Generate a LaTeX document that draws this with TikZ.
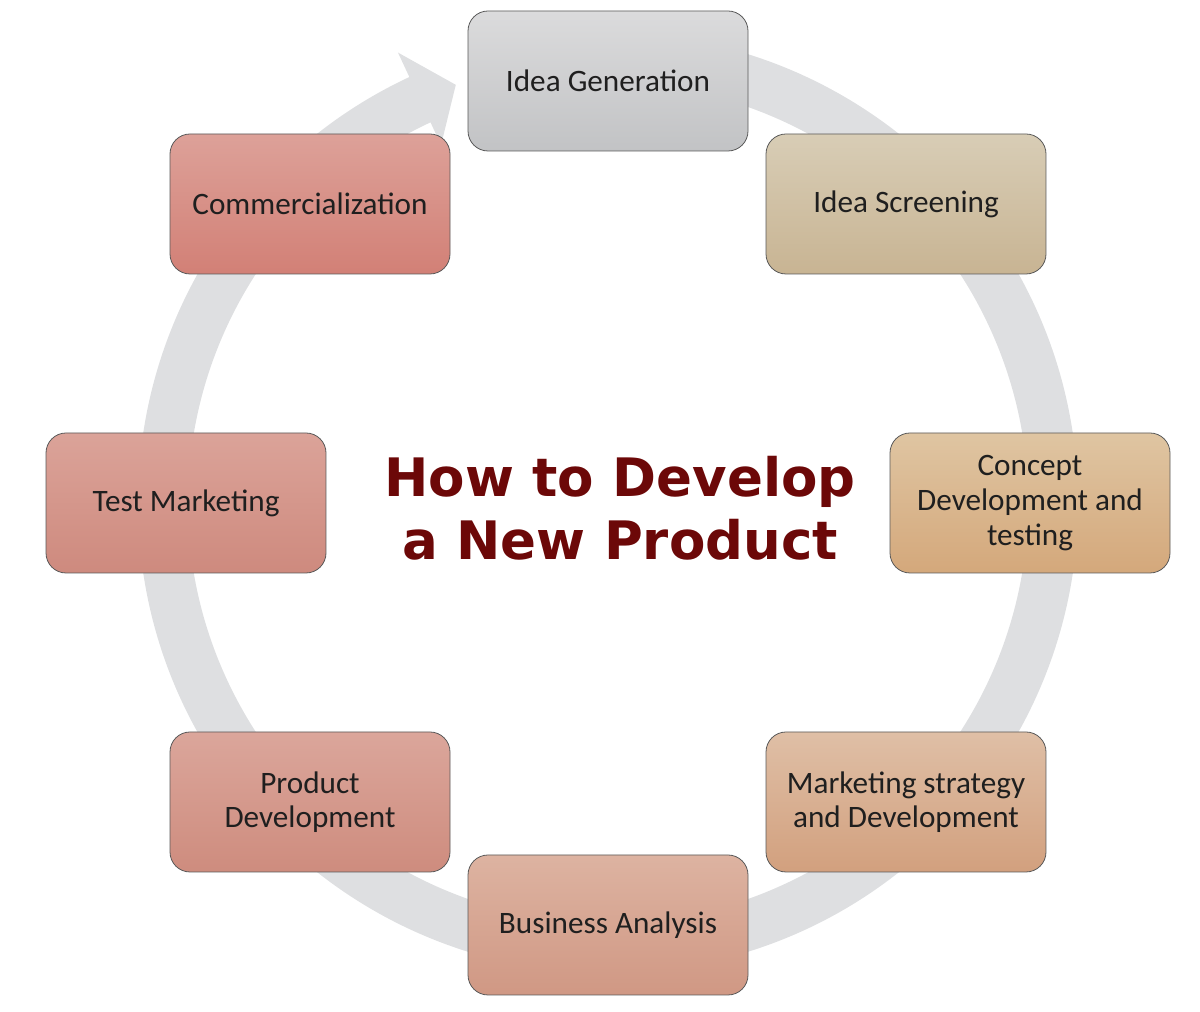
\documentclass[tikz,border=0pt]{standalone}
\usepackage{fontspec}
\setmainfont{Carlito}
\newfontfamily\titlefont{DejaVu Sans}
\definecolor{ringgray}{RGB}{222,223,225}
\definecolor{titlered}{RGB}{108,8,8}
\definecolor{gentop}{RGB}{219,219,220}
\definecolor{genbot}{RGB}{194,195,197}
\definecolor{screentop}{RGB}{216,205,182}
\definecolor{screenbot}{RGB}{200,180,147}
\definecolor{concepttop}{RGB}{223,197,162}
\definecolor{conceptbot}{RGB}{212,168,123}
\definecolor{strattop}{RGB}{223,191,166}
\definecolor{stratbot}{RGB}{210,160,126}
\definecolor{analysistop}{RGB}{221,179,161}
\definecolor{analysisbot}{RGB}{208,152,132}
\definecolor{producttop}{RGB}{219,166,155}
\definecolor{productbot}{RGB}{206,140,126}
\definecolor{testtop}{RGB}{219,163,153}
\definecolor{testbot}{RGB}{206,138,126}
\definecolor{launchtop}{RGB}{221,161,153}
\definecolor{launchbot}{RGB}{210,128,118}
\tikzset{
  stage/.style 2 args={
    draw=black!65, rounded corners=10pt,
    minimum width=140pt, minimum height=70pt,
    align=center, text=black!88,
    font=\fontsize{15.6}{17.3}\selectfont,
    top color=#1, bottom color=#2
  },
  headline/.style={
    font=\titlefont\bfseries\fontsize{26.5}{31.5}\selectfont,
    text=titlered, align=center
  }
}
\begin{document}
\begin{tikzpicture}[x=0.5pt,y=0.5pt]
\useasboundingbox (0,0) rectangle (1200,1012);
% grey cycle arrow behind the stages
\begin{scope}[shift={(608,509)}]
\fill[ringgray] (95:470) arc[start angle=95, end angle=-245, radius=470]
  -- (-245:497) -- (-250:445) -- (-245:395) -- (-245:420)
  arc[start angle=-245, end angle=95, radius=420] -- cycle;
\end{scope}
\node[stage={gentop}{genbot}] (gen) at (608,931) {Idea Generation};
\node[stage={screentop}{screenbot}] (screen) at (906,808) {Idea Screening};
\node[stage={concepttop}{conceptbot}] (concept) at (1030,509) {Concept\\Development and\\testing};
\node[stage={strattop}{stratbot}] (strategy) at (906,210) {Marketing strategy\\and Development};
\node[stage={analysistop}{analysisbot}] (analysis) at (608,87) {Business Analysis};
\node[stage={producttop}{productbot}] (product) at (310,210) {Product\\Development};
\node[stage={testtop}{testbot}] (testmkt) at (186,509) {Test Marketing};
\node[stage={launchtop}{launchbot}] (launch) at (310,808) {Commercialization};
\node[headline] (title) at (620,504) {How to Develop\\a New Product};
\end{tikzpicture}
\end{document}
